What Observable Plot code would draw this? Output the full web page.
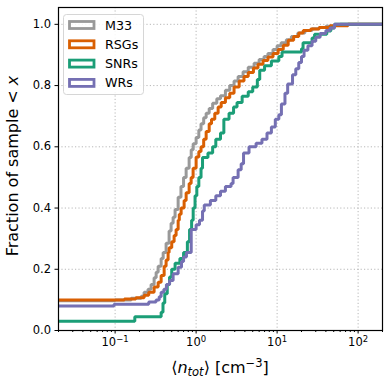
<!DOCTYPE html>
<html>
<head>
<meta charset="utf-8">
<script src="https://cdn.jsdelivr.net/npm/d3@7"></script>
<script src="https://cdn.jsdelivr.net/npm/@observablehq/plot@0.6"></script>
<style>
  html, body { margin: 0; padding: 0; background: #fff; }
  #chart { width: 390px; height: 383px; }
  svg { font-family: "DejaVu Sans", sans-serif; }
</style>
</head>
<body>
<div id="chart"></div>
<script>
// ---- Data ----
const seriesNames = ["M33", "RSGs", "SNRs", "WRs"];
const seriesColors = ["#999999", "#d95f02", "#1b9e77", "#7570b3"];

const m33X = [0.02, 0.1, 0.158, 0.21, 0.228, 0.255, 0.278, 0.303, 0.321, 0.34, 0.37, 0.392, 0.426, 0.464, 0.491, 0.52, 0.55, 0.6, 0.65, 0.7, 0.753, 0.82, 0.87, 0.92, 1.0, 1.08, 1.15, 1.24, 1.33, 1.45, 1.6, 1.8, 2.0, 2.3, 2.6, 2.94, 3.3, 3.8, 4.4, 5.2, 6.0, 6.9, 7.7, 8.9, 10, 11.2, 13, 15, 18, 22, 27, 33, 40, 50, 60, 200];
const m33Y = [0.097, 0.1, 0.105, 0.112, 0.125, 0.135, 0.15, 0.172, 0.19, 0.21, 0.235, 0.255, 0.285, 0.325, 0.35, 0.37, 0.395, 0.435, 0.47, 0.5, 0.53, 0.565, 0.59, 0.61, 0.63, 0.655, 0.675, 0.695, 0.71, 0.725, 0.742, 0.757, 0.767, 0.785, 0.8, 0.815, 0.83, 0.845, 0.86, 0.873, 0.885, 0.895, 0.905, 0.918, 0.93, 0.94, 0.95, 0.96, 0.972, 0.98, 0.986, 0.99, 0.994, 0.997, 1.0, 1.0];

const rsgX = [0.02, 0.13, 0.18, 0.228, 0.26, 0.303, 0.34, 0.37, 0.403, 0.426, 0.451, 0.464, 0.5, 0.535, 0.566, 0.6, 0.62, 0.653, 0.711, 0.753, 0.82, 0.868, 0.918, 1.0, 1.08, 1.15, 1.24, 1.33, 1.45, 1.55, 1.7, 1.87, 2.04, 2.3, 2.6, 2.94, 3.4, 3.9, 4.4, 5.1, 5.8, 6.7, 7.7, 8.9, 10.3, 11.9, 13.7, 16, 18.5, 21, 26, 33, 45, 75, 200];
const rsgY = [0.1, 0.103, 0.107, 0.115, 0.125, 0.142, 0.158, 0.18, 0.21, 0.23, 0.255, 0.27, 0.29, 0.31, 0.33, 0.36, 0.38, 0.4, 0.425, 0.45, 0.48, 0.5, 0.53, 0.567, 0.585, 0.6, 0.625, 0.65, 0.675, 0.69, 0.71, 0.73, 0.745, 0.76, 0.775, 0.795, 0.815, 0.83, 0.843, 0.857, 0.87, 0.882, 0.893, 0.905, 0.918, 0.932, 0.948, 0.96, 0.972, 0.98, 0.985, 0.99, 0.995, 1.0, 1.0];

const snrX = [0.02, 0.175, 0.37, 0.39, 0.41, 0.44, 0.47, 0.5, 0.55, 0.63, 0.7, 0.78, 0.83, 0.88, 0.92, 0.97, 1.02, 1.08, 1.15, 1.2, 1.4, 1.6, 1.75, 2.0, 2.2, 2.55, 2.9, 3.2, 3.7, 4.4, 5.0, 5.7, 6.1, 7.0, 8.5, 10.5, 11.5, 20, 20.9, 27, 29, 41, 46, 51, 200];
const snrY = [0.03, 0.045, 0.06, 0.09, 0.12, 0.15, 0.175, 0.2, 0.22, 0.235, 0.255, 0.29, 0.33, 0.36, 0.4, 0.44, 0.47, 0.5, 0.53, 0.565, 0.58, 0.6, 0.625, 0.645, 0.69, 0.71, 0.73, 0.745, 0.765, 0.78, 0.795, 0.82, 0.85, 0.865, 0.88, 0.895, 0.91, 0.92, 0.94, 0.955, 0.968, 0.978, 0.988, 1.0, 1.0];

const wrX = [0.02, 0.097, 0.26, 0.32, 0.35, 0.37, 0.4, 0.43, 0.47, 0.52, 0.6, 0.66, 0.7, 0.76, 0.87, 1.0, 1.1, 1.2, 1.26, 1.5, 1.75, 2.0, 2.3, 2.7, 2.86, 3.3, 3.6, 3.85, 4.5, 5.5, 6.5, 7.5, 8.5, 9.5, 10.5, 11.3, 12.5, 13.5, 15.5, 17, 18.5, 20, 21.5, 24, 27, 30, 34, 40, 45, 51, 200];
const wrY = [0.08, 0.086, 0.093, 0.1, 0.11, 0.125, 0.135, 0.15, 0.163, 0.185, 0.207, 0.225, 0.24, 0.255, 0.33, 0.345, 0.36, 0.39, 0.41, 0.425, 0.44, 0.455, 0.47, 0.48, 0.5, 0.525, 0.545, 0.58, 0.6, 0.612, 0.625, 0.645, 0.665, 0.69, 0.705, 0.74, 0.775, 0.805, 0.835, 0.855, 0.875, 0.895, 0.915, 0.93, 0.945, 0.958, 0.97, 0.98, 0.988, 1.0, 1.0];

const xMajorTicks = [0.1, 1, 10, 100];
const xTickExponents = ["\u22121", "0", "1", "2"];
const yTicks = [0, 0.2, 0.4, 0.6, 0.8, 1.0];

// ---- Build table ----
const allX = [m33X, rsgX, snrX, wrX];
const allY = [m33Y, rsgY, snrY, wrY];
const rows = [];
seriesNames.forEach((name, i) => {
  allX[i].forEach((x, j) => rows.push({series: name, x, y: allY[i][j]}));
});

const xMinor = [];
for (let e = -2; e <= 2; e++) {
  for (let m = 2; m <= 9; m++) {
    const v = m * Math.pow(10, e);
    if (v >= 0.02 && v <= 200) xMinor.push(v);
  }
}

const chart = Plot.plot({
  width: 390,
  height: 383,
  marginLeft: 58,
  marginRight: 8,
  marginTop: 7,
  marginBottom: 53,
  style: {fontFamily: "DejaVu Sans, sans-serif", fontSize: "11.5px", color: "#000", background: "#fff"},
  x: {type: "log", domain: [0.02, 200]},
  y: {domain: [0, 1.055]},
  color: {domain: seriesNames, range: seriesColors},
  marks: [
    Plot.gridX(xMajorTicks, {stroke: "#b0b0b0", strokeOpacity: 1, strokeDasharray: "1.2,2.2", strokeWidth: 0.9}),
    Plot.gridY(yTicks, {stroke: "#b0b0b0", strokeOpacity: 1, strokeDasharray: "1.2,2.2", strokeWidth: 0.9}),
    Plot.line(rows, {x: "x", y: "y", z: "series", stroke: "series", curve: "step-after", strokeWidth: 3, clip: true, strokeLinejoin: "miter"}),
    Plot.axisX(xMinor, {tickSize: 2, tickFormat: () => "", label: null, stroke: "#000"}),
    Plot.axisX(xMajorTicks, {tickSize: 3.5, tickPadding: 4, tickFormat: d => "10", label: null, fontSize: 11.5, ariaLabel: "x-major"}),
    Plot.axisY(yTicks, {tickSize: 3.5, tickPadding: 4, tickFormat: d => d.toFixed(1), label: null, fontSize: 11.5}),
    Plot.frame({stroke: "#000", strokeWidth: 1.2})
  ]
});

document.getElementById("chart").appendChild(chart);

const svg = d3.select(chart);

// superscript exponents on the x tick labels
svg.selectAll("text").each(function() {
  const t = d3.select(this);
  if (t.text() === "10") {
    const idx = xTickExponents.length;
    t.attr("data-major", "1");
  }
});
svg.selectAll("text[data-major='1']").each(function(d, i) {
  const t = d3.select(this);
  t.text("");
  t.append("tspan").text("10");
  t.append("tspan").attr("font-size", 8.5).attr("dy", "-0.45em").text(xTickExponents[i]);
});

// ---- Axis labels and legend (real text) ----
const yl = svg.append("text")
  .attr("transform", "translate(18,166) rotate(-90)")
  .attr("text-anchor", "middle")
  .attr("font-size", 16)
  .attr("fill", "#000");
yl.append("tspan").text("Fraction of sample < ");
yl.append("tspan").attr("font-style", "italic").text("x");

const xl = svg.append("text")
  .attr("x", 220).attr("y", 373)
  .attr("text-anchor", "middle")
  .attr("font-size", 16)
  .attr("fill", "#000");
xl.append("tspan").text("\u27E8");
xl.append("tspan").attr("font-style", "italic").text("n");
xl.append("tspan").attr("font-style", "italic").attr("font-size", 11.5).attr("dy", 3).text("tot");
xl.append("tspan").attr("dy", -3).text("\u27E9 [cm");
xl.append("tspan").attr("font-size", 11.5).attr("dy", -6).text("\u22123");
xl.append("tspan").attr("dy", 6).text("]");

const lg = svg.append("g");
lg.append("rect")
  .attr("x", 63.5).attr("y", 14.5).attr("width", 80).attr("height", 80)
  .attr("rx", 3).attr("fill", "#fff").attr("fill-opacity", 0.85)
  .attr("stroke", "#d6d6d6").attr("stroke-width", 1);
seriesNames.forEach((name, i) => {
  const cy = 25 + i * 19.3;
  lg.append("rect")
    .attr("x", 69.5).attr("y", cy - 3.5).attr("width", 24.5).attr("height", 7)
    .attr("fill", "none").attr("stroke", seriesColors[i]).attr("stroke-width", 2.8);
  lg.append("text")
    .attr("x", 105).attr("y", cy + 4.5)
    .attr("text-anchor", "start")
    .attr("font-size", 12.7).attr("fill", "#000")
    .text(name);
});
</script>
</body>
</html>
